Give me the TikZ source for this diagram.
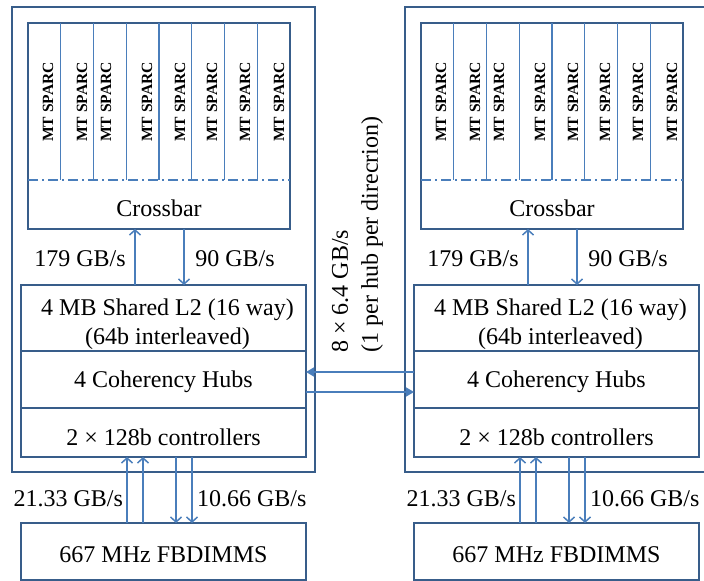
\documentclass[tikz,border=0pt]{standalone}
\usepackage{fontspec}
\setmainfont{Liberation Serif}
\usetikzlibrary{arrows.meta,positioning}
\definecolor{boxblue}{RGB}{56,93,138}
\definecolor{lineblue}{RGB}{74,126,187}

\begin{document}
\begin{tikzpicture}[x=1pt,y=-1pt,font=\fontsize{12}{14.5}\selectfont,
	box/.style={draw=boxblue,line width=1.1pt,inner sep=0pt,outer sep=0pt,minimum width=142.5pt,align=center},
	core/.style={draw=lineblue,line width=0.7pt},
	flow/.style={draw=lineblue,line width=0.75pt,-{Straight Barb[length=2.5pt,width=5.5pt]}},
	link/.style={draw=lineblue,line width=0.75pt,-{Triangle[length=4pt,width=4.5pt]}},
	sparc/.style={rotate=90,inner sep=0pt,font=\fontsize{7.8}{9}\selectfont\bfseries}]
	\useasboundingbox (0,0) rectangle (352,290.5);
	\foreach \s/\dx in {l/0,r/196.5}{
		\begin{scope}[xshift=\dx pt]
			% chip and cores
			\node[box,minimum width=151.5pt,minimum height=232.5pt] (\s-chip) at (81.75,119.75) {};
			\node[box,minimum width=131pt,minimum height=103pt] (\s-top) at (79.5,63) {};
			\foreach \i in {1,...,7}
				\draw[core] ([xshift=\i*16.375pt]\s-top.north west) -- ++(0,78.5);
			\draw[core,dash pattern=on 5pt off 2pt on 1pt off 2pt] ([yshift=-78.5pt]\s-top.north west) -- ([yshift=-78.5pt]\s-top.north east);
			\foreach \xc [count=\i] in {24,41,53,73.5,90,106,122.5,139.5}
				\node[sparc] (\s-c\i) at (\xc,51) {MT SPARC};
			\node (\s-xbar) at (79.5,104) {Crossbar};
			% cache, hubs, controllers
			\node[box,minimum height=33pt] (\s-l2) at (81.75,159) {};
			\node[box,minimum height=28.5pt,below=0pt of \s-l2] (\s-hub) {};
			\node[box,minimum height=24.5pt,below=0pt of \s-hub] (\s-ctl) {};
			\node[box,minimum height=28.5pt] (\s-mem) at (81.75,275.75) {};
			\node[align=center] (\s-l2t) at ([xshift=2pt,yshift=-3pt]\s-l2.center) {4 MB Shared L2 (16 way)\\(64b interleaved)};
			\node (\s-hubt) at ([yshift=-1pt]\s-hub.center) {4 Coherency Hubs};
			\node (\s-ctlt) at ([yshift=-2.5pt]\s-ctl.center) {2 × 128b controllers};
			\node (\s-memt) at ([yshift=-1.5pt]\s-mem.center) {667 MHz FBDIMMS};
			% crossbar links
			\draw[flow] ([xshift=57pt]\s-l2.north west) -- ([xshift=53.5pt]\s-top.south west);
			\draw[flow] ([xshift=78pt]\s-top.south west) -- ([xshift=81.5pt]\s-l2.north west);
			\node (\s-bw1) at (40,129.5) {179 GB/s};
			\node (\s-bw2) at (117.5,129.5) {90 GB/s};
			% memory links
			\draw[flow] ([xshift=53pt]\s-mem.north west) -- ([xshift=53pt]\s-ctl.south west);
			\draw[flow] ([xshift=61pt]\s-mem.north west) -- ([xshift=61pt]\s-ctl.south west);
			\draw[flow] ([xshift=77.5pt]\s-ctl.south west) -- ([xshift=77.5pt]\s-mem.north west);
			\draw[flow] ([xshift=85.5pt]\s-ctl.south west) -- ([xshift=85.5pt]\s-mem.north west);
			\node[anchor=east] (\s-bw3) at (65,249.5) {21.33 GB/s};
			\node[anchor=west] (\s-bw4) at (95,249.5) {10.66 GB/s};
		\end{scope}
	}
	% hub to hub
	\draw[link] ([yshift=3.75pt]r-hub.west) -- ([yshift=3.75pt]l-hub.east);
	\draw[link] ([yshift=-6.25pt]l-hub.east) -- ([yshift=-6.25pt]r-hub.west);
	\node[rotate=90,anchor=west,align=left,inner sep=0pt,font=\fontsize{12}{15}\selectfont] (hublink) at (178.75,176.5) {8 × 6.4 GB/s\\(1 per hub per direcrion)};
\end{tikzpicture}
\end{document}
